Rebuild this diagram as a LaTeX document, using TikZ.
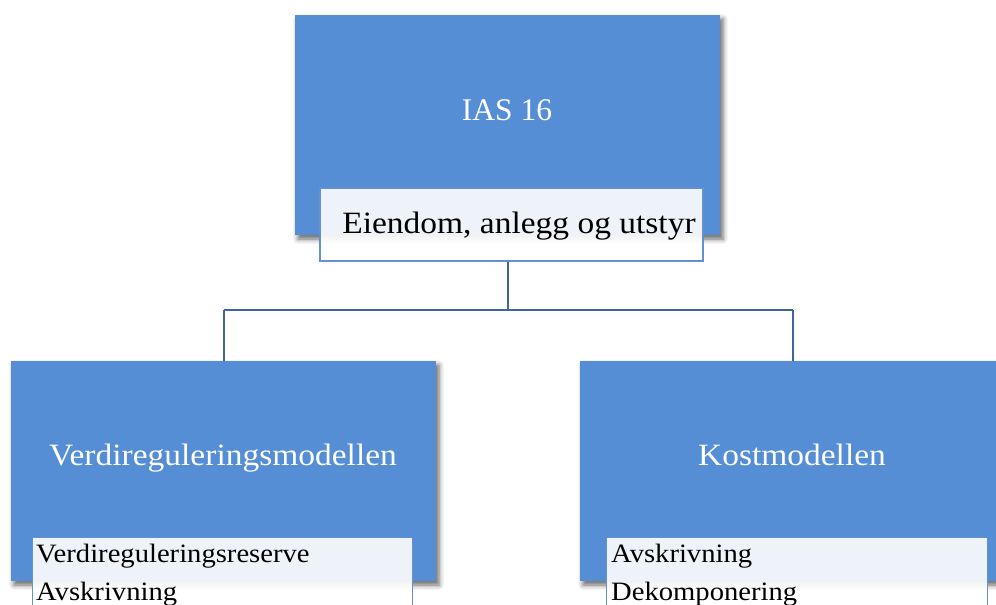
\documentclass[tikz,border=0pt]{standalone}
\usepackage{fontspec}
\setmainfont{Liberation Serif}[FakeStretch=1.08]
\newfontfamily\narrowserif{Liberation Serif}
\usetikzlibrary{shadows.blur}

\definecolor{boxblue}{RGB}{85,142,213}
\definecolor{edgeblue}{RGB}{100,145,205}
\definecolor{linkblue}{RGB}{62,101,154}

\tikzset{
  bigbox/.style={rectangle, fill=boxblue, draw=none, inner sep=0pt,
    minimum width=425pt, minimum height=220pt,
    blur shadow={shadow xshift=3pt, shadow yshift=-4pt,
      shadow blur radius=5pt, shadow opacity=60}},
  subbox/.style={rectangle, fill=white, fill opacity=0.9, draw=edgeblue,
    line width=1.2pt, inner sep=0pt},
  headtext/.style={text=white, font=\fontsize{31}{36}\selectfont, inner sep=0pt},
  subtext/.style={text=black, font=\fontsize{31}{36}\selectfont, inner sep=0pt},
  itemtext/.style={text=black, font=\fontsize{26.5}{30}\selectfont, inner sep=0pt, anchor=base west},
  link/.style={draw=linkblue, line width=2pt}
}

\begin{document}
\begin{tikzpicture}[x=1pt,y=-1pt]
\useasboundingbox (0,0) rectangle (996,605);
\clip (0,0) rectangle (996,605);

% top level
\node[bigbox] (top) at (507.5,125) {};
\node[headtext, anchor=base, font=\narrowserif\fontsize{31.5}{36}\selectfont] (toplbl) at (507,120) {IAS 16};
\node[subbox, minimum width=383pt, minimum height=73pt] (topsub) at (511.5,224.5) {};
\node[subtext, anchor=base] (topsublbl) at (519,233) {Eiendom, anlegg og utstyr};

% second level
\node[bigbox] (left) at (223.5,471) {};
\node[headtext, anchor=base] (leftlbl) at (223,465) {Verdireguleringsmodellen};
\node[subbox, anchor=north west, minimum width=380pt, minimum height=85pt] (leftsub) at (32,537) {};
\node[itemtext] (l1) at (36,562) {Verdireguleringsreserve};
\node[itemtext] (l2) at (36,600) {Avskrivning};

\node[bigbox] (right) at (792.5,471) {};
\node[headtext, anchor=base] (rightlbl) at (792,465) {Kostmodellen};
\node[subbox, anchor=north west, minimum width=381pt, minimum height=85pt] (rightsub) at (606,537) {};
\node[itemtext] (r1) at (611,562) {Avskrivning};
\node[itemtext] (r2) at (611,600) {Dekomponering};

% connectors
\coordinate (fork) at (507.5,310);
\draw[link] (topsub.south -| fork) -- (fork);
\draw[link] (left.north |- fork) -- (right.north |- fork);
\draw[link] (left.north |- fork) -- (left.north);
\draw[link] (right.north |- fork) -- (right.north);
\end{tikzpicture}
\end{document}
